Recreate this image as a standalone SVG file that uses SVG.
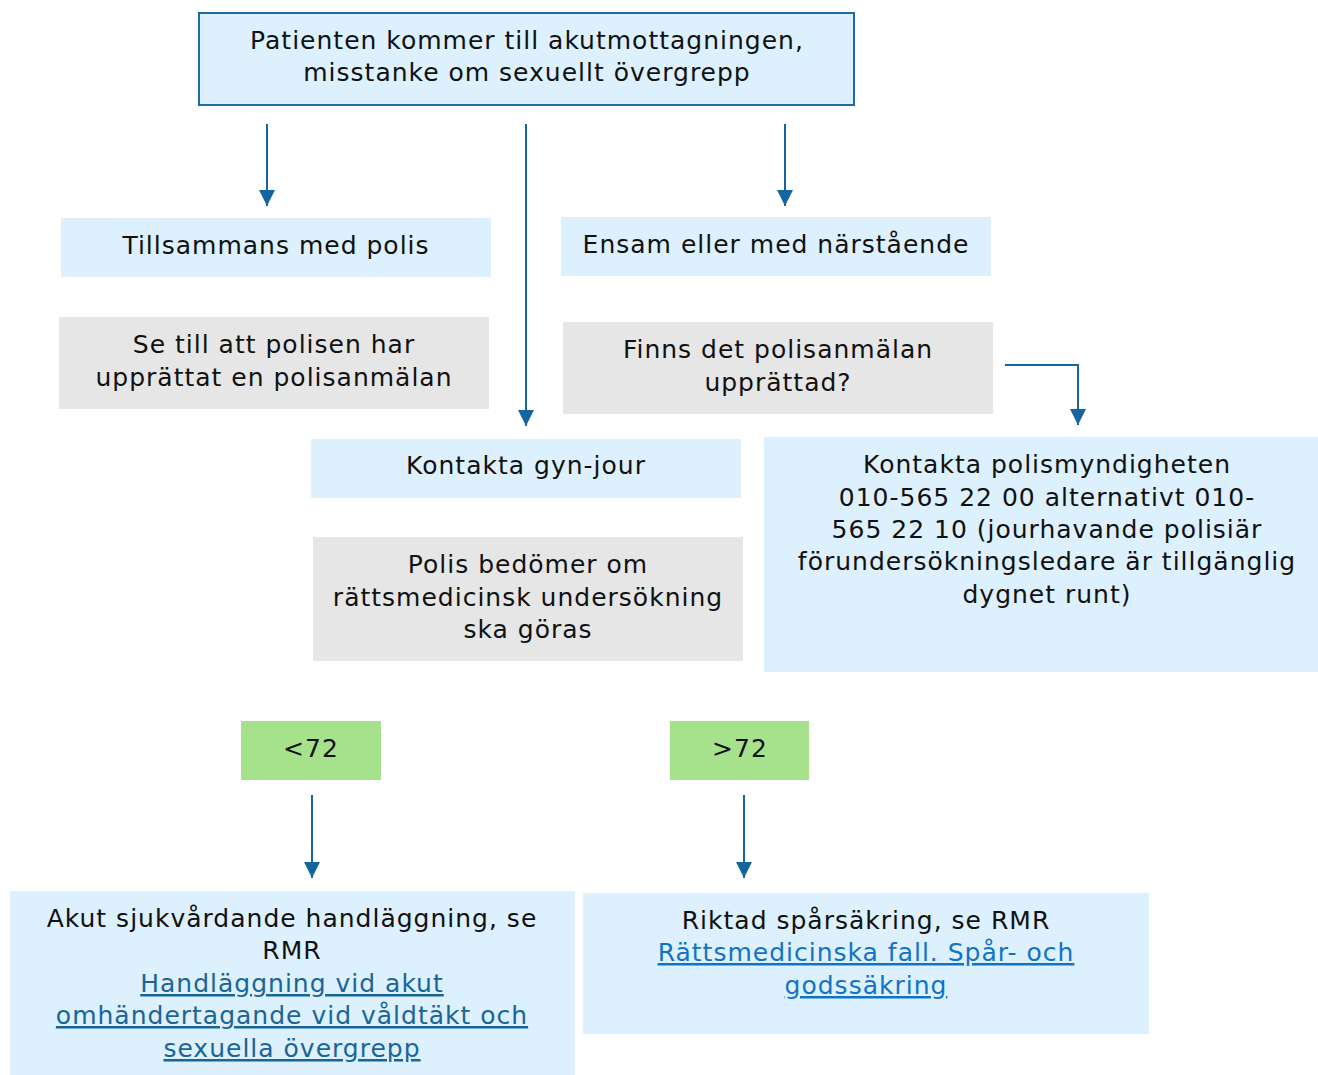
<svg xmlns="http://www.w3.org/2000/svg" width="1318" height="1075" viewBox="0 0 1318 1075">
<defs>
<style>
.t{font-family:"DejaVu Sans","Liberation Sans",sans-serif;font-size:25px;letter-spacing:1px;fill:#111;text-anchor:middle}
.blue{fill:#dcf0fd}
.gray{fill:#e6e6e6}
.green{fill:#a6e28c}
.lnk{fill:#1a6596;text-decoration:underline}
.lnk2{fill:#1273c4;text-decoration:underline}
.c{stroke:#1565a0;stroke-width:2;fill:none}
</style>
<marker id="ah" viewBox="0 0 16 16" refX="16" refY="8" markerWidth="16" markerHeight="16" markerUnits="userSpaceOnUse" orient="auto">
<path d="M0,0 L16,8 L0,16 Z" fill="#1565a0"/>
</marker>
</defs>
<g id="connectors">
<line class="c" x1="267" y1="124" x2="267" y2="206" marker-end="url(#ah)"/>
<line class="c" x1="526" y1="124" x2="526" y2="426" marker-end="url(#ah)"/>
<line class="c" x1="785" y1="124" x2="785" y2="206" marker-end="url(#ah)"/>
<polyline class="c" points="1005,365 1078,365 1078,425" marker-end="url(#ah)"/>
<line class="c" x1="312" y1="795" x2="312" y2="878" marker-end="url(#ah)"/>
<line class="c" x1="744" y1="795" x2="744" y2="878" marker-end="url(#ah)"/>
</g>
<g id="n-start">
<rect x="199" y="13" width="655" height="92" class="blue" stroke="#1f6a9e" stroke-width="2"/>
<text class="t" x="527" y="49">Patienten kommer till akutmottagningen,</text>
<text class="t" x="527" y="81">misstanke om sexuellt övergrepp</text>
</g>
<g id="n-polis">
<rect x="61" y="218" width="430" height="59" class="blue"/>
<text class="t" x="276" y="254">Tillsammans med polis</text>
</g>
<g id="n-ensam">
<rect x="561" y="217" width="430" height="59" class="blue"/>
<text class="t" x="776" y="253">Ensam eller med närstående</text>
</g>
<g id="n-setill">
<rect x="59" y="317" width="430" height="92" class="gray"/>
<text class="t" x="274" y="353">Se till att polisen har</text>
<text class="t" x="274" y="386">upprättat en polisanmälan</text>
</g>
<g id="n-finns">
<rect x="563" y="322" width="430" height="92" class="gray"/>
<text class="t" x="778" y="358">Finns det polisanmälan</text>
<text class="t" x="778" y="391">upprättad?</text>
</g>
<g id="n-gyn">
<rect x="311" y="439" width="430" height="59" class="blue"/>
<text class="t" x="526" y="474">Kontakta gyn-jour</text>
</g>
<g id="n-polismynd">
<rect x="764" y="437" width="554" height="235" class="blue"/>
<text class="t" x="1047" y="473">Kontakta polismyndigheten</text>
<text class="t" x="1047" y="506">010-565 22 00 alternativt 010-</text>
<text class="t" x="1047" y="538">565 22 10 (jourhavande polisiär</text>
<text class="t" x="1047" y="570">förundersökningsledare är tillgänglig</text>
<text class="t" x="1047" y="603">dygnet runt)</text>
</g>
<g id="n-bedomer">
<rect x="313" y="537" width="430" height="124" class="gray"/>
<text class="t" x="528" y="573">Polis bedömer om</text>
<text class="t" x="528" y="606">rättsmedicinsk undersökning</text>
<text class="t" x="528" y="638">ska göras</text>
</g>
<g id="n-lt72">
<rect x="241" y="721" width="140" height="59" class="green"/>
<text class="t" x="311" y="757">&lt;72</text>
</g>
<g id="n-gt72">
<rect x="670" y="721" width="139" height="59" class="green"/>
<text class="t" x="740" y="757">&gt;72</text>
</g>
<g id="n-akut">
<rect x="10" y="891" width="565" height="184" class="blue"/>
<text class="t" x="292" y="927">Akut sjukvårdande handläggning, se</text>
<text class="t" x="292" y="959">RMR</text>
<text class="t lnk" x="292" y="992">Handläggning vid akut</text>
<text class="t lnk" x="292" y="1024">omhändertagande vid våldtäkt och</text>
<text class="t lnk" x="292" y="1057">sexuella övergrepp</text>
</g>
<g id="n-riktad">
<rect x="583" y="893" width="566" height="141" class="blue"/>
<text class="t" x="866" y="929">Riktad spårsäkring, se RMR</text>
<text class="t lnk2" x="866" y="961">Rättsmedicinska fall. Spår- och</text>
<text class="t lnk2" x="866" y="994">godssäkring</text>
</g>
</svg>
